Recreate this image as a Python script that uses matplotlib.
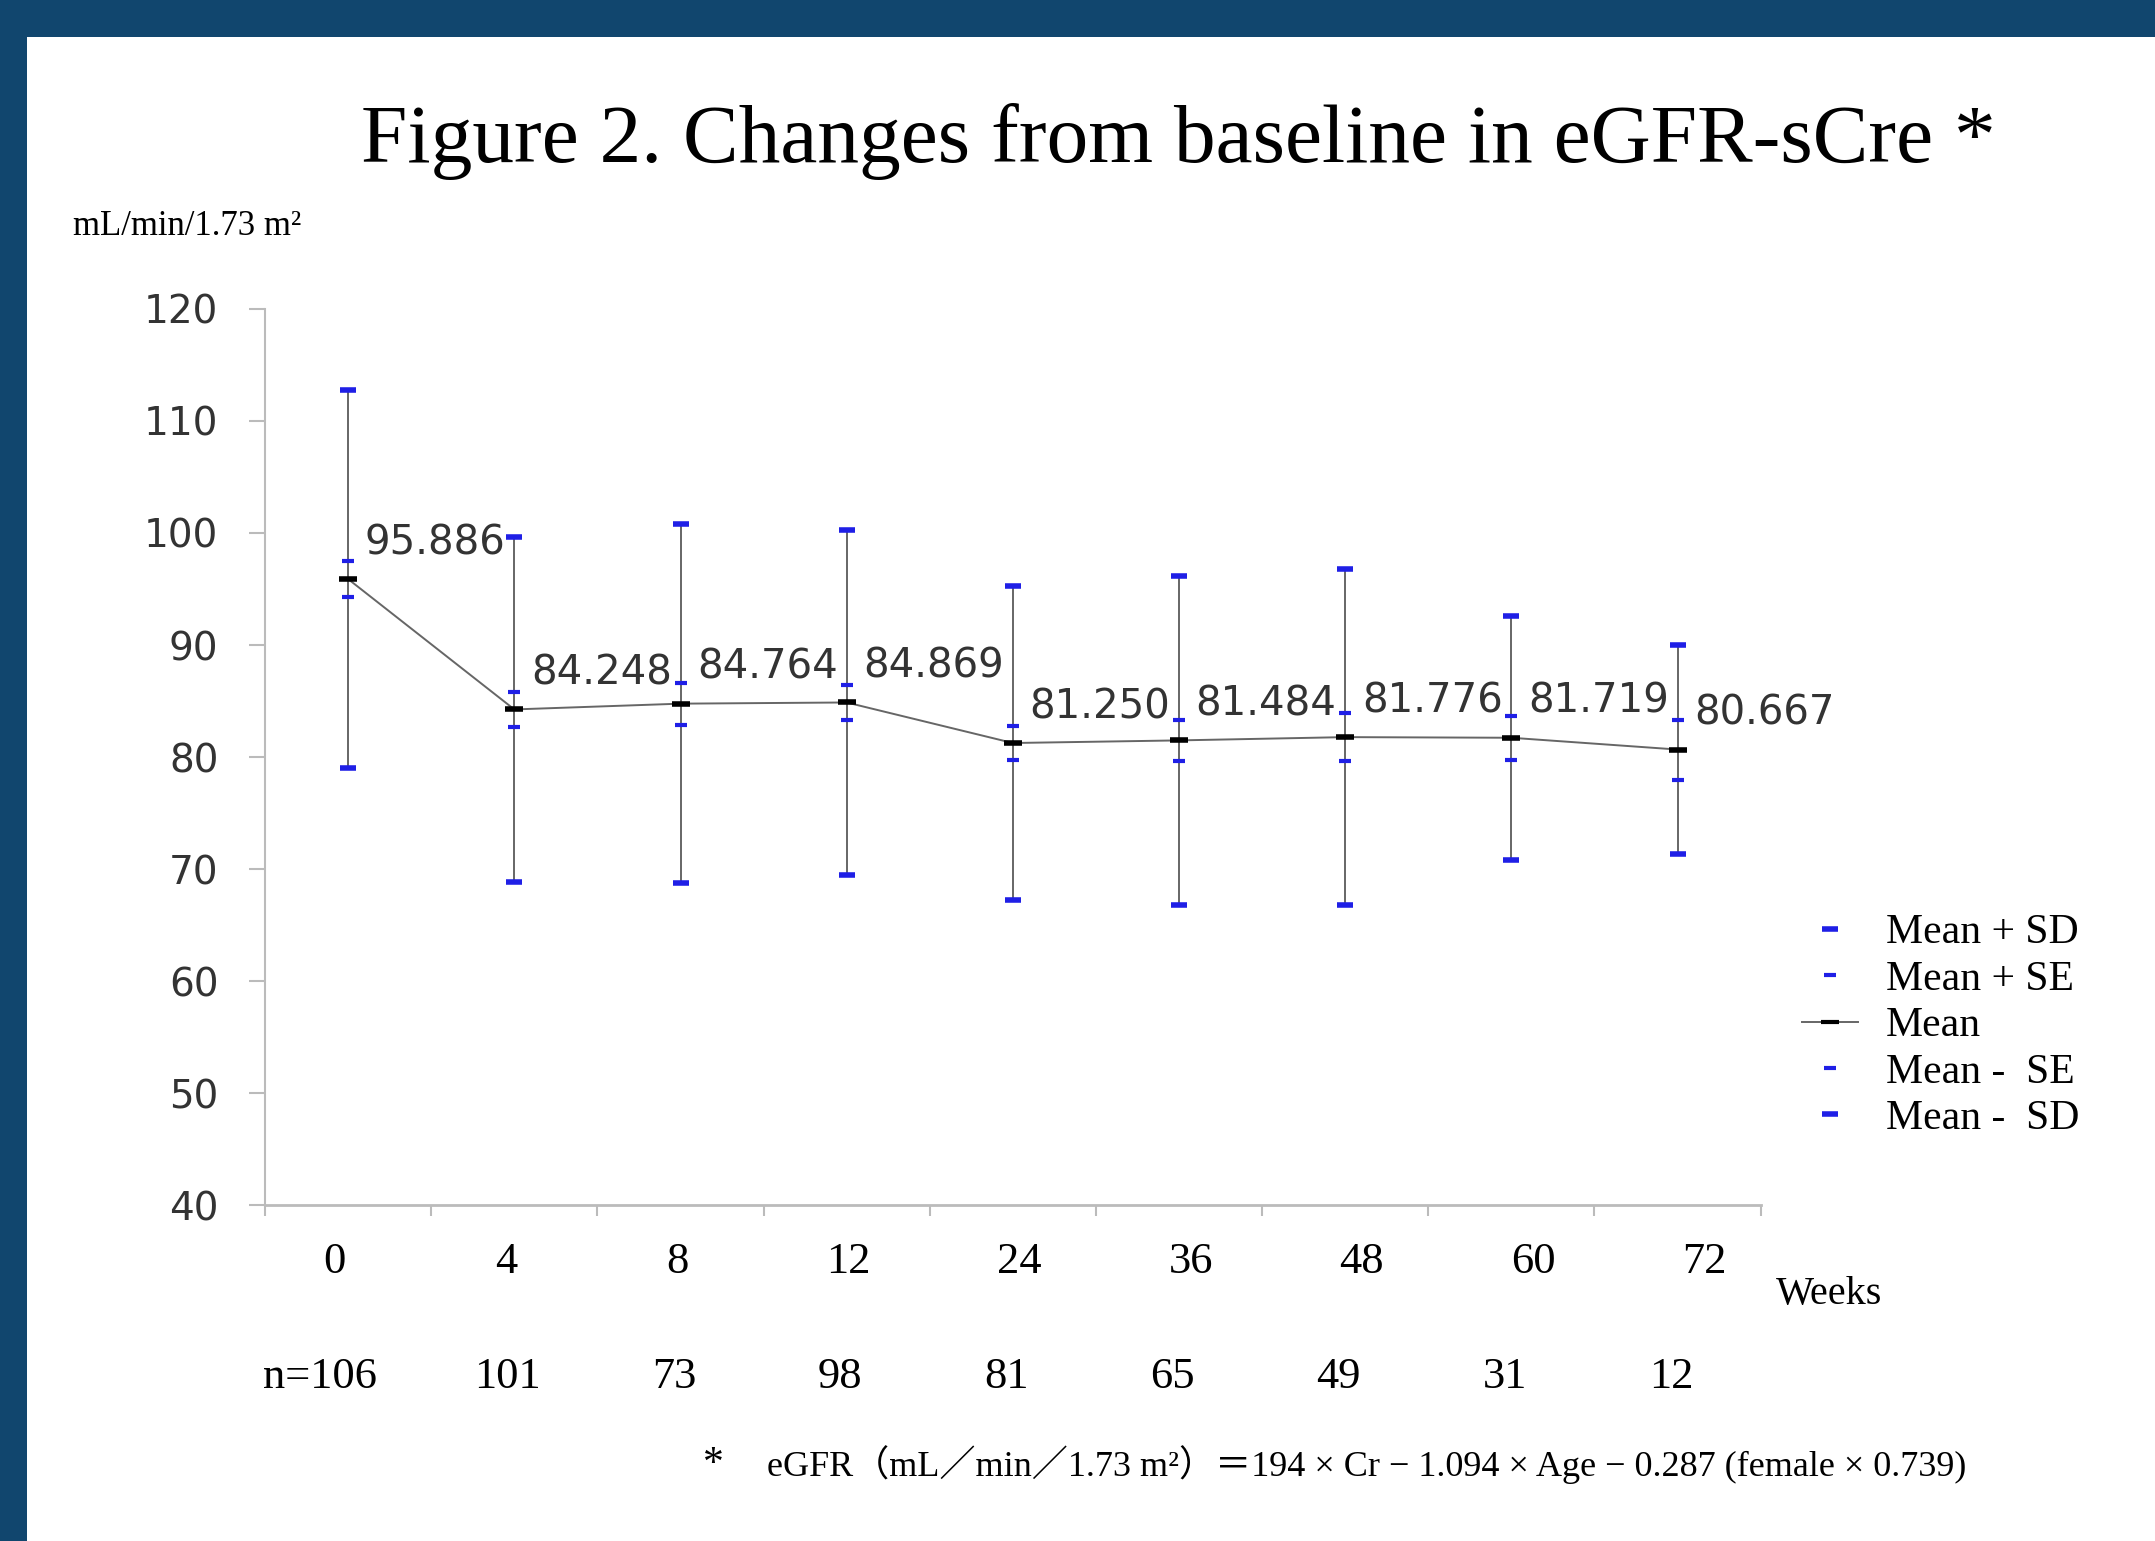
import numpy as np
import matplotlib
matplotlib.use('Agg')
import matplotlib.pyplot as plt
from matplotlib.patches import Rectangle
from matplotlib.lines import Line2D

# values
weeks = ['0', '4', '8', '12', '24', '36', '48', '60', '72']
n_pat = ['n=106', '101', '73', '98', '81', '65', '49', '31', '12']
mean = [95.886, 84.248, 84.764, 84.869, 81.250, 81.484, 81.776, 81.719, 80.667]
sd = [16.9, 15.4, 16.0, 15.4, 14.0, 14.7, 15.0, 10.9, 9.3]
se = [1.64, 1.53, 1.87, 1.56, 1.55, 1.82, 2.14, 1.96, 2.68]

navy = '#11466e'
blue = '#1f1fe6'
grey = '#666666'
serif = ['Liberation Serif', 'DejaVu Serif']
serif_cjk = ['Liberation Serif', 'Noto Sans CJK JP', 'DejaVu Sans']

mean = np.array(mean)
sd = np.array(sd)
se = np.array(se)
x = np.arange(len(weeks))

fig = plt.figure(figsize=(21.55, 15.41), dpi=100)
fig.patch.set_facecolor(navy)
fig.add_artist(Rectangle((27/2155, 0), 1, 1 - 37/1541, transform=fig.transFigure,
                         facecolor='white', edgecolor='none', zorder=0))

ax = fig.add_axes([0.123, 0.218, 0.694, 0.5815])
ax.patch.set_alpha(0)

# error bars
ax.vlines(x, mean - sd, mean + sd, color=grey, lw=1.4, zorder=2)
ax.plot(x, mean, color=grey, lw=1.4, zorder=2)
ax.plot(x, mean + sd, ls='none', marker='_', ms=11, mew=4, color=blue, zorder=3)
ax.plot(x, mean - sd, ls='none', marker='_', ms=11, mew=4, color=blue, zorder=3)
ax.plot(x, mean + se, ls='none', marker='_', ms=8, mew=3, color=blue, zorder=3)
ax.plot(x, mean - se, ls='none', marker='_', ms=8, mew=3, color=blue, zorder=3)
ax.plot(x, mean, ls='none', marker='_', ms=13, mew=4, color='black', zorder=4)

for xi, m in zip(x, mean):
    ax.text(xi + 0.1, m + 3.2, f'{m:.3f}', fontsize=29, color='#333333',
            ha='left', va='center', zorder=5)

ax.set_xlim(-0.5, len(weeks) - 0.5)
ax.set_ylim(40, 120)
ax.set_yticks(range(40, 121, 10))
ax.set_xticks(np.arange(-0.5, len(weeks), 1.0))
ax.set_xticklabels([])
ax.tick_params(axis='y', length=11.5, width=1.5, color='#bbbbbb', pad=22,
               labelsize=28, labelcolor='#333333')
ax.tick_params(axis='x', length=8, width=1.5, color='#bbbbbb')
for s in ['top', 'right']:
    ax.spines[s].set_visible(False)
ax.spines['left'].set_color('#bbbbbb')
ax.spines['left'].set_linewidth(1.5)
ax.spines['bottom'].set_color('#bbbbbb')
ax.spines['bottom'].set_linewidth(2)

tr = ax.get_xaxis_transform()
for i, w in enumerate(weeks):
    ax.text(i * 1.03 - 0.08, -0.064, w, transform=tr, fontsize=32,
            family=serif, ha='center', va='center')
ax.text(8.91, -0.100, 'Weeks', transform=tr, fontsize=29, family=serif,
        ha='center', va='center')
for i, nn in enumerate(n_pat):
    xp = -0.17 if i == 0 else i - 0.04
    ax.text(xp, -0.192, nn, transform=tr, fontsize=32, family=serif,
            ha='center', va='center')

fig.text(0.5466, 0.908, 'Figure 2. Changes from baseline in eGFR-sCre *',
         fontsize=60, family=serif, ha='center', va='center')
fig.text(0.0338, 0.853, 'mL/min/1.73 m²', fontsize=25, family=serif,
         ha='left', va='center')

fig.text(0.331, 0.0493, '*', fontsize=30, family=serif, ha='center', va='center')
fig.text(0.356, 0.0493,
         'eGFR（mL／min／1.73 m²）＝194 × Cr − 1.094 × Age − 0.287 (female × 0.739)',
         fontsize=26, family=serif_cjk, ha='left', va='center')

handles = [
    Line2D([], [], ls='none', marker='_', ms=11, mew=4, color=blue),
    Line2D([], [], ls='none', marker='_', ms=8, mew=3, color=blue),
    Line2D([], [], color=grey, lw=1.4, marker='_', ms=13, mew=3, mec='black'),
    Line2D([], [], ls='none', marker='_', ms=8, mew=3, color=blue),
    Line2D([], [], ls='none', marker='_', ms=11, mew=4, color=blue),
]
labels = ['Mean + SD', 'Mean + SE', 'Mean', 'Mean -  SE', 'Mean -  SD']
fig.legend(handles, labels, loc='upper left', bbox_to_anchor=(0.836, 0.407),
           bbox_transform=fig.transFigure, frameon=False, borderpad=0,
           borderaxespad=0, handlelength=1.35, handletextpad=0.68,
           labelspacing=0.19, prop={'family': serif, 'size': 30})

fig.savefig('out.png', dpi=100, facecolor=fig.get_facecolor())
